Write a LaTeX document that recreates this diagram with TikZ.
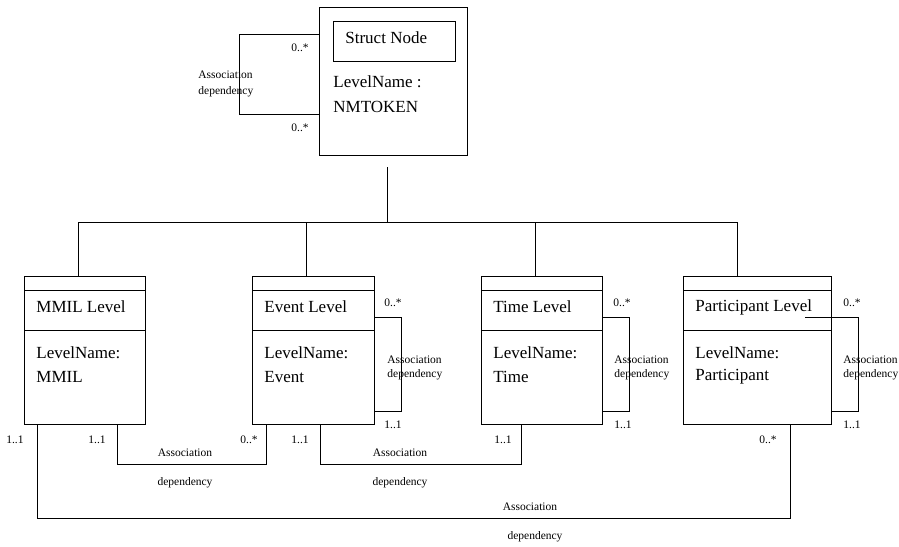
\documentclass[tikz,border=0pt]{standalone}
\usepackage{fontspec}
\setmainfont{Liberation Serif}
\usetikzlibrary{calc}
\begin{document}
\begin{tikzpicture}[x=1pt,y=-1pt,line width=0.8pt,
  box/.style={draw,inner sep=0pt,outer sep=0pt},
  big/.style={inner sep=0pt,font=\fontsize{17}{20}\selectfont},
  small/.style={inner sep=0pt,font=\fontsize{11.5}{13}\selectfont}]
\useasboundingbox (0,0) rectangle (899,546);
% root class
\node [box,minimum size=148pt] (struct) at (393,81) {};
\node [box,minimum width=122pt,minimum height=40pt] (head) at (394,41) {};
\node [big,right] (stitle) at (345,38) {Struct Node};
\node [big,right] (sname) at (333,82) {LevelName :};
\node [big,right] (stoken) at (333,107) {NMTOKEN};
\draw ($(struct.north west)+(0,27)$) -- ++(-80,0) |- ($(struct.north west)+(0,107)$);
\node [small] (sm1) at (300,48) {0..*};
\node [small] (sm2) at (300,128) {0..*};
\node [small,right] (sa) at (198,75) {Association};
\node [small,right] (sd) at (198,92) {dependency};
% level classes
\foreach \n/\x/\w/\t/\v in {mmil/84.5/121/MMIL Level/MMIL,
    event/313/122/Event Level/Event,
    time/541.5/121/Time Level/Time,
    part/757/148/Participant Level/Participant} {
  \node [box,minimum width=\w pt,minimum height=148pt] (\n) at (\x,350) {};
  \draw ($(\n.north west)+(0,14)$) -- ++(\w,0);
  \draw ($(\n.north west)+(0,54)$) -- ++(\w,0);
  \node [big,right] (\n-t) at ($(\n.north west)+(12,31)$) {\t};
  \node [big,right] (\n-n) at ($(\n.north west)+(12,77)$) {LevelName:};
  \node [big,right] (\n-v) at ($(\n.north west)+(12,101)$) {\v};
}
% tree
\coordinate (hub) at (387,167);
\draw (hub) -- ++(0,55);
\draw ($(mmil.north west)+(54,0)$) |- ($(part.north west)+(54,-54)$) -- ++(0,54);
\draw ($(event.north west)+(54,0)$) -- ++(0,-54);
\draw ($(time.north west)+(54,0)$) -- ++(0,-54);
% self associations
\draw ($(event.north east)+(0,41)$) -| ($(event.south east)+(27,-13)$) -- ++(-27,0);
\draw ($(time.north east)+(0,41)$) -| ($(time.south east)+(27,-13)$) -- ++(-27,0);
\draw ($(part.north east)+(-26,41)$) -| ($(part.south east)+(27,-13)$) -- ++(-27,0);
\node [small] (em) at (393,303) {0..*};
\node [small] (eo) at (393,425) {1..1};
\node [small,right] (ea) at (387,360) {Association};
\node [small,right] (ed) at (387,375) {dependency};
\node [small] (tm) at (622,303) {0..*};
\node [small] (to) at (623,425) {1..1};
\node [small,right] (ta) at (614,360) {Association};
\node [small,right] (td) at (614,375) {dependency};
\node [small] (pm) at (852,303) {0..*};
\node [small] (po) at (852,425) {1..1};
\node [small,right] (pa) at (843,360) {Association};
\node [small,right] (pd) at (843,375) {dependency};
% associations between levels
\draw ($(mmil.south west)+(93,0)$) |- ($(event.south west)+(14,40)$) -- ++(0,-40);
\draw ($(event.south west)+(68,0)$) |- ($(time.south west)+(40,40)$) -- ++(0,-40);
\draw ($(mmil.south west)+(13,0)$) |- ($(part.south west)+(107,94)$) -- ++(0,-94);
\node [small] (m1) at (15,440) {1..1};
\node [small] (m2) at (97,440) {1..1};
\node [small] (e1) at (249,440) {0..*};
\node [small] (e2) at (300,440) {1..1};
\node [small] (t1) at (503,440) {1..1};
\node [small] (p1) at (768,440) {0..*};
\node [small] (a1) at (185,453) {Association};
\node [small] (d1) at (185,483) {dependency};
\node [small] (a2) at (400,453) {Association};
\node [small] (d2) at (400,483) {dependency};
\node [small] (a3) at (530,507) {Association};
\node [small] (d3) at (535,537) {dependency};
\end{tikzpicture}
\end{document}
